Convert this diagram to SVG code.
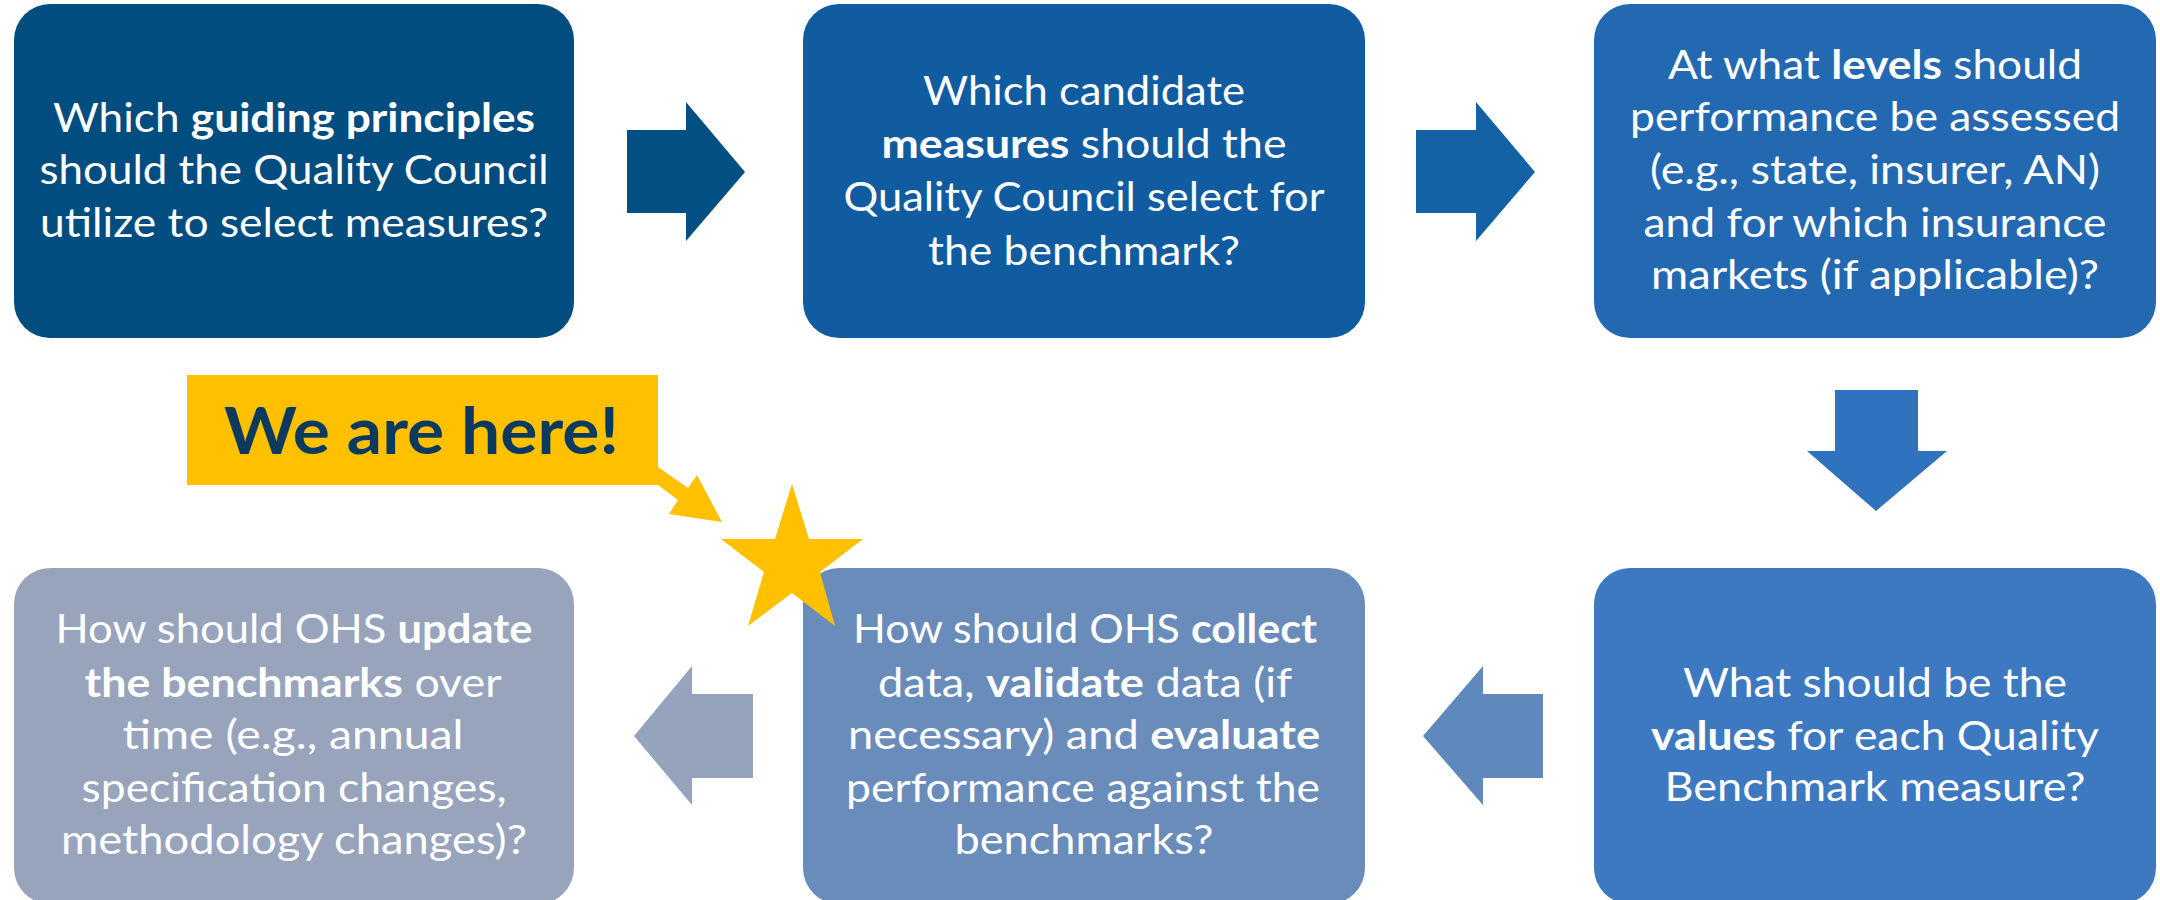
<svg xmlns="http://www.w3.org/2000/svg" width="2160" height="900" viewBox="0 0 2160 900">
<style>
.t{font-family:Lato,"Open Sans","Liberation Sans",sans-serif;font-size:40px;fill:#fff;text-anchor:middle}
.b{font-weight:bold}
.call{font-family:Lato,"Open Sans","Liberation Sans",sans-serif;font-size:65px;font-weight:bold;fill:#0C3A5E}
</style>
<rect width="2160" height="900" fill="#fff"/>
<g id="connectors">
<polygon points="627,130 686,130 686,102 745,172 686,241 686,213 627,213" fill="#024F83"/>
<polygon points="1416,130 1476,130 1476,102 1535,172 1476,241 1476,213 1416,213" fill="#1461A6"/>
<polygon points="1835,390 1918,390 1918,451 1947,451 1876,511 1807,451 1835,451" fill="#2F73BE"/>
<polygon points="1543,694 1483,694 1483,666 1423,736 1483,805 1483,778 1543,778" fill="#5F88BD"/>
<polygon points="753,694 692,694 692,666 634,736 692,805 692,778 753,778" fill="#95A3BD"/>
</g>
<g id="node1">
<rect x="14" y="4" width="560" height="334" rx="36" fill="#024D80"/>
<text class="t" x="294" y="132" textLength="482" lengthAdjust="spacingAndGlyphs">Which <tspan class="b">guiding principles</tspan></text>
<text class="t" x="294" y="184" textLength="509" lengthAdjust="spacingAndGlyphs">should the Quality Council</text>
<text class="t" x="294" y="237" textLength="508" lengthAdjust="spacingAndGlyphs">utilize to select measures?</text>
</g>
<g id="node2">
<rect x="803" y="4" width="562" height="334" rx="36" fill="#115CA0"/>
<text class="t" x="1084" y="105" textLength="322" lengthAdjust="spacingAndGlyphs">Which candidate</text>
<text class="t" x="1084" y="158" textLength="405" lengthAdjust="spacingAndGlyphs"><tspan class="b">measures</tspan> should the</text>
<text class="t" x="1084" y="211" textLength="481" lengthAdjust="spacingAndGlyphs">Quality Council select for</text>
<text class="t" x="1084" y="265" textLength="312" lengthAdjust="spacingAndGlyphs">the benchmark?</text>
</g>
<g id="node3">
<rect x="1594" y="4" width="562" height="334" rx="36" fill="#2369B1"/>
<text class="t" x="1875" y="79" textLength="414" lengthAdjust="spacingAndGlyphs">At what <tspan class="b">levels</tspan> should</text>
<text class="t" x="1875" y="131" textLength="490" lengthAdjust="spacingAndGlyphs">performance be assessed</text>
<text class="t" x="1875" y="184" textLength="450" lengthAdjust="spacingAndGlyphs">(e.g., state, insurer, AN)</text>
<text class="t" x="1875" y="237" textLength="463" lengthAdjust="spacingAndGlyphs">and for which insurance</text>
<text class="t" x="1875" y="289" textLength="448" lengthAdjust="spacingAndGlyphs">markets (if applicable)?</text>
</g>
<g id="node4">
<rect x="1594" y="568" width="562" height="336" rx="36" fill="#3D79C0"/>
<text class="t" x="1875" y="697" textLength="384" lengthAdjust="spacingAndGlyphs">What should be the</text>
<text class="t" x="1875" y="750" textLength="448" lengthAdjust="spacingAndGlyphs"><tspan class="b">values</tspan> for each Quality</text>
<text class="t" x="1875" y="801" textLength="421" lengthAdjust="spacingAndGlyphs">Benchmark measure?</text>
</g>
<g id="node5">
<rect x="803" y="568" width="562" height="336" rx="36" fill="#6A8CBA"/>
<text class="t" x="1085" y="643" textLength="464" lengthAdjust="spacingAndGlyphs">How should OHS <tspan class="b">collect</tspan></text>
<text class="t" x="1085" y="697" textLength="414" lengthAdjust="spacingAndGlyphs">data, <tspan class="b">validate</tspan> data (if</text>
<text class="t" x="1084" y="749" textLength="472" lengthAdjust="spacingAndGlyphs">necessary) and <tspan class="b">evaluate</tspan></text>
<text class="t" x="1083" y="802" textLength="474" lengthAdjust="spacingAndGlyphs">performance against the</text>
<text class="t" x="1084" y="854" textLength="259" lengthAdjust="spacingAndGlyphs">benchmarks?</text>
</g>
<g id="node6">
<rect x="14" y="568" width="560" height="336" rx="36" fill="#97A4BB"/>
<text class="t" x="294" y="643" textLength="477" lengthAdjust="spacingAndGlyphs">How should OHS <tspan class="b">update</tspan></text>
<text class="t" x="293" y="697" textLength="417" lengthAdjust="spacingAndGlyphs"><tspan class="b">the benchmarks</tspan> over</text>
<text class="t" x="293" y="749" textLength="341" lengthAdjust="spacingAndGlyphs">time (e.g., annual</text>
<text class="t" x="294" y="802" textLength="425" lengthAdjust="spacingAndGlyphs">specification changes,</text>
<text class="t" x="294" y="854" textLength="466" lengthAdjust="spacingAndGlyphs">methodology changes)?</text>
</g>
<g id="callout">
<rect x="187" y="375" width="471" height="110" fill="#FFC000"/>
<polygon points="658,467 688,488 697,475 722,522 669,514 678,500 658,485" fill="#FFC000"/>
<text class="call" x="224" y="454" textLength="395" lengthAdjust="spacingAndGlyphs">We are here!</text>
</g>
<g id="star">
<polygon points="792,484 809,539 863,539 820,572 835,626 792,593 748,626 764,572 721,539 775,539" fill="#FFC000"/>
</g>
</svg>
